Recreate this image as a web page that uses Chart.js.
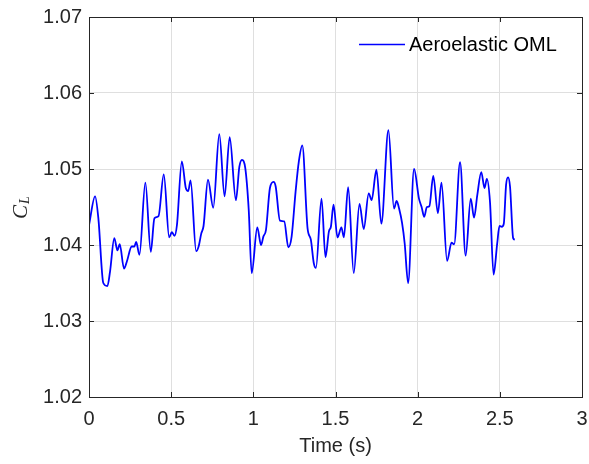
<!DOCTYPE html>
<html>
<head>
<meta charset="utf-8">
<script src="https://cdn.jsdelivr.net/npm/chart.js@4"></script>
<style>
  body{margin:0;background:#fff;}
  #wrap{width:589px;height:464px;}
</style>
</head>
<body>
<div id="wrap"><canvas id="clChart" width="589" height="464"></canvas></div>
<script>
// lift coefficient time history
const timeS = [
  0, 0.037, 0.057, 0.087, 0.112, 0.128, 0.154, 0.173, 0.187, 0.213,
  0.23, 0.26, 0.276, 0.287, 0.307, 0.343, 0.376, 0.398, 0.423, 0.455,
  0.488, 0.504, 0.52, 0.535, 0.565, 0.589, 0.604, 0.618, 0.652, 0.667,
  0.683, 0.697, 0.724, 0.756, 0.793, 0.825, 0.856, 0.894, 0.915, 0.931,
  0.951, 0.972, 0.99, 1.024, 1.047, 1.061, 1.077, 1.101, 1.123, 1.136,
  1.162, 1.188, 1.213, 1.233, 1.257, 1.277, 1.298, 1.33, 1.35, 1.368,
  1.381, 1.415, 1.439, 1.46, 1.472, 1.488, 1.512, 1.536, 1.551, 1.577,
  1.611, 1.646, 1.672, 1.702, 1.72, 1.749, 1.779, 1.822, 1.856, 1.872,
  1.887, 1.905, 1.921, 1.942, 1.978, 2.008, 2.024, 2.04, 2.056, 2.071,
  2.095, 2.123, 2.145, 2.179, 2.206, 2.222, 2.258, 2.292, 2.323, 2.343,
  2.363, 2.387, 2.407, 2.421, 2.44, 2.462, 2.484, 2.498, 2.512, 2.524,
  2.538, 2.55, 2.562, 2.581, 2.591
];
const liftCoef = [
  1.0426, 1.0464, 1.0435, 1.035, 1.0346, 1.0365, 1.0409, 1.0393, 1.0401, 1.0369,
  1.0378, 1.0398, 1.0398, 1.0404, 1.0387, 1.0482, 1.0391, 1.0435, 1.0438, 1.0493,
  1.041, 1.0417, 1.0412, 1.0426, 1.051, 1.0475, 1.0471, 1.0485, 1.0392, 1.0398,
  1.0415, 1.0425, 1.0486, 1.0449, 1.0546, 1.0464, 1.0542, 1.0459, 1.0503, 1.0512,
  1.0501, 1.0446, 1.0363, 1.0423, 1.040, 1.0411, 1.042, 1.0475, 1.0483, 1.0477,
  1.0432, 1.0431, 1.0397, 1.0411, 1.047, 1.051, 1.0531, 1.0422, 1.0407, 1.0376,
  1.037, 1.0461, 1.0384, 1.0418, 1.0424, 1.0453, 1.041, 1.0423, 1.041, 1.0476,
  1.0363, 1.0454, 1.0421, 1.0468, 1.0459, 1.0499, 1.0428, 1.0551, 1.0448, 1.0458,
  1.0448, 1.0429, 1.0402, 1.035, 1.05, 1.0461, 1.045, 1.0437, 1.045, 1.0451,
  1.0491, 1.0442, 1.0482, 1.0379, 1.0403, 1.0401, 1.0509, 1.0386, 1.0461, 1.0436,
  1.0466, 1.0496, 1.0475, 1.0487, 1.0457, 1.0361, 1.0402, 1.0425, 1.0424, 1.0428,
  1.0479, 1.0489, 1.0477, 1.0409, 1.0407
];
const xTicks = [0, 0.5, 1, 1.5, 2, 2.5, 3];
const yTicks = [1.02, 1.03, 1.04, 1.05, 1.06, 1.07];
const seriesName = "Aeroelastic OML";

const axisColor = "#262626";
const tickFont = {family:"'Liberation Sans', Arial, sans-serif", size:20};

// box around the axes + inward tick marks, axis label and legend
const frame = {
  id:"frame",
  afterDraw(chart){
    const {ctx, chartArea:a, scales:{x, y}} = chart;
    ctx.save();
    ctx.strokeStyle = axisColor;
    ctx.lineWidth = 1;
    ctx.beginPath();
    xTicks.forEach(v=>{
      const px = Math.round(x.getPixelForValue(v)) + 0.5;
      ctx.moveTo(px, a.bottom); ctx.lineTo(px, a.bottom - 5);
      ctx.moveTo(px, a.top); ctx.lineTo(px, a.top + 5);
    });
    yTicks.forEach(v=>{
      const py = Math.round(y.getPixelForValue(v)) + 0.5;
      ctx.moveTo(a.left, py); ctx.lineTo(a.left + 5, py);
      ctx.moveTo(a.right, py); ctx.lineTo(a.right - 5, py);
    });
    ctx.stroke();
    ctx.strokeRect(Math.round(a.left) + 0.5, Math.round(a.top) + 0.5,
                   Math.round(a.right - a.left), Math.round(a.bottom - a.top));

    // C_L label, rotated
    ctx.translate(27, 219);
    ctx.rotate(-Math.PI / 2);
    ctx.fillStyle = axisColor;
    ctx.textBaseline = "alphabetic";
    ctx.font = "italic 21px 'Liberation Serif', 'Times New Roman', serif";
    ctx.fillText("C", 0, 0);
    const cw = ctx.measureText("C").width;
    ctx.font = "italic 14px 'Liberation Serif', 'Times New Roman', serif";
    ctx.fillText("L", cw + 1, 2);
    ctx.restore();

    // legend
    ctx.save();
    const ds = chart.data.datasets[0];
    ctx.strokeStyle = ds.borderColor;
    ctx.lineWidth = 1.5;
    ctx.beginPath();
    ctx.moveTo(359, 44.5); ctx.lineTo(405, 44.5);
    ctx.stroke();
    ctx.fillStyle = "#000";
    ctx.font = "20px 'Liberation Sans', Arial, sans-serif";
    ctx.textBaseline = "middle";
    ctx.fillText(ds.label, 409, 45);
    ctx.restore();
  }
};

new Chart(document.getElementById("clChart"), {
  type:"line",
  data:{
    datasets:[{
      label:seriesName,
      data:timeS.map((t,i)=>({x:t, y:liftCoef[i]})),
      borderColor:"#0000ff",
      borderWidth:1.8,
      pointRadius:0,
      fill:false,
      cubicInterpolationMode:"monotone"
    }]
  },
  options:{
    responsive:false,
    animation:false,
    layout:{padding:{top:17, right:7, left:0, bottom:0}},
    plugins:{legend:{display:false}, tooltip:{enabled:false}},
    scales:{
      x:{
        type:"linear", min:0, max:3,
        afterBuildTicks:s=>{ s.ticks = xTicks.map(v=>({value:v})); },
        afterFit:s=>{ s.height = 67; s.paddingLeft = 0; s.paddingRight = 0; },
        grid:{color:"#dfdfdf", drawTicks:false},
        border:{display:false},
        ticks:{color:axisColor, font:tickFont, padding:10, maxRotation:0,
               callback:v=>String(v)},
        title:{display:true, text:"Time (s)", color:axisColor, font:tickFont,
               padding:{top:0, bottom:6}}
      },
      y:{
        type:"linear", min:1.02, max:1.07,
        afterBuildTicks:s=>{ s.ticks = yTicks.map(v=>({value:v})); },
        afterFit:s=>{ s.width = 89; s.paddingTop = 0; s.paddingBottom = 0; },
        grid:{color:"#dfdfdf", drawTicks:false},
        border:{display:false},
        ticks:{color:axisColor, font:tickFont, padding:7,
               callback:v=>v.toFixed(2)}
      }
    }
  },
  plugins:[frame]
});
</script>
</body>
</html>
